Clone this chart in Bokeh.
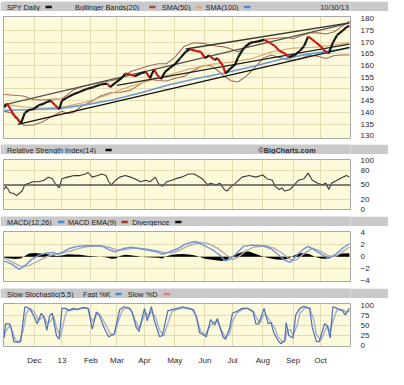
import numpy as np
from bokeh.plotting import figure
from bokeh.layouts import column
from bokeh.models import Range1d, FixedTicker, Span
from bokeh.embed import file_html
from bokeh.resources import INLINE
from bokeh.core.properties import value

# ---------------- data (x = trading-day index, 0 = 2012-10-31) ----------------
month_ticks = [22, 42, 63, 82, 102, 124, 146, 166, 188, 210, 230]
month_labels = ["Dec", "13", "Feb", "Mar", "Apr", "May", "Jun", "Jul", "Aug", "Sep", "Oct"]

price_idx = [0, 2, 5, 7, 10, 12, 15, 18, 21, 25, 29, 31, 34, 37, 40, 42, 46, 50, 55, 60,
             65, 70, 75, 77, 81, 86, 88, 92, 95, 99, 103, 106, 109, 111, 114, 117, 121, 124,
             128, 132, 135, 139, 143, 146, 149, 153, 155, 159, 161, 164, 168, 170, 173, 175,
             179, 184, 189, 193, 197, 200, 204, 207, 211, 215, 218, 221, 224, 226, 230, 233,
             236, 239, 242, 246, 249, 251]
price_close = [142.1, 143.7, 141.0, 138.6, 137.0, 135.1, 139.8, 141.0, 141.3, 143.0, 143.7,
               144.5, 144.9, 143.0, 141.3, 145.0, 146.4, 147.6, 148.8, 150.0, 150.8, 151.9,
               152.3, 150.8, 152.7, 155.0, 156.6, 156.2, 155.4, 156.6, 157.3, 154.6, 158.5,
               156.2, 154.2, 157.3, 159.3, 160.5, 163.2, 165.9, 167.1, 166.3, 165.9, 163.2,
               164.4, 162.4, 163.2, 160.0, 156.6, 158.5, 160.5, 163.5, 166.3, 168.0, 169.8,
               170.2, 171.0, 169.8, 168.3, 166.3, 165.2, 163.6, 164.4, 166.3, 168.3, 172.4,
               171.2, 170.2, 168.3, 166.3, 165.2, 169.8, 173.0, 174.9, 176.5, 176.9]

bb_idx = [0, 7, 14, 21, 28, 34, 42, 46, 50, 56, 63, 70, 77, 84, 92, 100, 106, 112, 118, 124,
          131, 138, 145, 150, 155, 160, 165, 170, 176, 182, 188, 194, 200, 206, 210, 216, 222,
          228, 234, 240, 246, 251]
bb_upper = [147.6, 147.3, 147.0, 145.5, 145.3, 145.6, 145.8, 147.5, 149.5, 150.8, 151.8,
            152.8, 153.4, 154.5, 157.5, 159.0, 160.0, 160.8, 160.8, 163.5, 168.3, 169.8,
            169.5, 168.8, 168.3, 168.0, 167.1, 165.8, 168.0, 170.3, 171.2, 171.5, 171.8,
            172.0, 171.5, 172.8, 174.0, 174.0, 173.5, 174.5, 177.0, 179.0]
bb_lower = [140.5, 139.5, 134.5, 134.5, 136.0, 138.0, 140.5, 139.5, 139.8, 142.5, 144.5,
            147.0, 148.4, 148.5, 149.5, 152.5, 154.2, 153.6, 153.4, 154.5, 155.5, 158.0,
            160.0, 160.0, 158.0, 155.4, 153.5, 153.0, 155.5, 159.0, 163.0, 164.5, 163.5,
            162.5, 162.3, 163.0, 164.5, 164.0, 163.0, 164.3, 164.5, 164.5]

sma50_idx = [0, 15, 30, 45, 60, 75, 90, 105, 120, 135, 150, 165, 180, 195, 210, 225, 240, 251]
sma50 = [143.5, 142.2, 141.8, 142.5, 144.5, 147.5, 150.8, 153.5, 156.0, 158.6, 160.5, 161.5,
         163.0, 166.0, 167.5, 167.8, 168.8, 169.8]

sma100_idx = [0, 20, 40, 60, 80, 100, 120, 140, 160, 180, 200, 220, 240, 251]
sma100 = [140.8, 141.2, 141.6, 143.3, 145.5, 148.5, 151.8, 154.5, 156.8, 159.5, 162.5, 164.8,
          166.5, 167.5]

# hand-drawn trend lines: (start idx, start price, end idx, end price)
trend_x0 = [0, 10, 82, 132]
trend_y0 = [143.2, 134.8, 151.5, 167.1]
trend_x1 = [251, 251, 251, 251]
trend_y1 = [178.2, 167.8, 169.2, 178.3]
trend_colors = ["#505050", "#111111", "#222222", "#333333"]

rsi_idx = [0, 1, 3, 4, 7, 9, 13, 15, 18, 21, 25, 29, 32, 35, 37, 40, 42, 46, 51, 55, 59, 61,
           64, 68, 71, 74, 76, 78, 81, 84, 88, 92, 95, 99, 103, 106, 110, 112, 115, 118, 122,
           126, 129, 134, 138, 140, 144, 148, 150, 154, 157, 160, 162, 164, 168, 173, 178,
           183, 188, 191, 195, 197, 200, 202, 204, 208, 211, 214, 218, 221, 224, 228, 231,
           234, 236, 238, 242, 246, 249, 251]
rsi = [40.9, 47.0, 41.0, 34.6, 32.7, 28.3, 37.7, 50.3, 53.4, 56.6, 56.6, 59.7, 66.0, 62.9,
       53.4, 44.0, 62.9, 66.0, 69.2, 69.2, 72.3, 75.5, 66.0, 69.2, 72.3, 69.2, 56.6, 50.3,
       59.7, 66.0, 69.2, 66.0, 62.9, 56.6, 59.7, 56.6, 66.0, 53.4, 47.2, 56.6, 59.7, 64.0,
       66.0, 72.3, 72.3, 69.2, 62.9, 50.3, 53.4, 50.3, 53.4, 40.9, 37.7, 44.0, 53.4, 66.0,
       69.2, 66.0, 70.4, 62.9, 59.7, 47.2, 40.9, 44.0, 37.7, 40.9, 50.3, 59.7, 62.9, 74.2,
       59.7, 53.4, 50.3, 53.4, 40.9, 53.4, 59.7, 66.0, 69.2, 66.0]

macd_idx = [0, 5, 11, 15, 20, 25, 30, 35, 39, 42, 47, 53, 60, 68, 72, 77, 81, 86, 92, 99,
            105, 111, 115, 120, 126, 132, 139, 146, 152, 157, 161, 164, 169, 174, 180, 188,
            194, 200, 204, 208, 213, 218, 221, 226, 232, 236, 241, 247, 251]
macd = [-0.7, -1.2, -2.1, -1.5, -0.45, 0.2, 0.55, 0.7, 0.4, 0.7, 1.3, 1.7, 1.8, 1.8, 1.65,
        1.05, 0.8, 1.3, 1.55, 1.3, 1.05, 0.8, 0.4, 0.8, 1.3, 2.1, 2.5, 1.8, 1.05, 0.2, -0.7,
        -0.45, 0.55, 1.7, 1.9, 1.8, 1.3, 0.2, -0.6, -0.95, 0.3, 1.3, 1.7, 1.05, 0.2, -0.3,
        0.4, 1.55, 2.1]

signal_idx = [0, 5, 12, 18, 24, 30, 36, 42, 48, 55, 62, 70, 76, 82, 88, 95, 102, 110, 116,
              122, 128, 134, 142, 148, 155, 161, 166, 170, 176, 182, 190, 196, 202, 208, 212,
              218, 224, 230, 236, 241, 246, 251]
signal = [-0.2, -0.8, -1.6, -1.5, -0.8, -0.1, 0.4, 0.55, 0.9, 1.4, 1.7, 1.8, 1.55, 1.1, 1.15,
          1.4, 1.3, 1.0, 0.7, 0.65, 1.1, 1.8, 2.35, 2.2, 1.4, 0.4, -0.5, -0.1, 1.0, 1.6, 1.8,
          1.4, 0.6, -0.5, -0.6, 0.5, 1.4, 0.9, 0.1, 0.05, 0.8, 1.6]

div_idx = [0, 4, 8, 12, 15, 18, 22, 26, 30, 34, 38, 42, 46, 50, 55, 60, 65, 70, 74, 78, 81,
           84, 88, 92, 96, 100, 104, 108, 112, 115, 118, 122, 126, 130, 134, 138, 142, 146,
           150, 154, 158, 162, 166, 170, 174, 178, 182, 186, 190, 194, 198, 202, 206, 210,
           214, 218, 222, 226, 230, 234, 238, 242, 246, 250, 251]
divergence = [-0.2, -0.3, -0.4, -0.3, 0.1, 0.5, 0.6, 0.5, 0.45, 0.3, 0.1, 0.2, 0.4, 0.35,
              0.3, 0.15, 0.05, 0.0, -0.1, -0.35, -0.3, 0.1, 0.3, 0.25, 0.1, 0.0, -0.1, -0.15,
              -0.2, -0.3, 0.05, 0.3, 0.4, 0.45, 0.35, 0.25, 0.0, -0.35, -0.45, -0.6, -0.7,
              -0.45, 0.1, 0.5, 0.8, 0.85, 0.5, 0.2, -0.1, -0.3, -0.45, -0.5, -0.4, 0.1, 0.5,
              0.6, 0.4, 0.0, -0.3, -0.35, -0.1, 0.3, 0.5, 0.55, 0.5]

stk_idx = [0, 1, 4, 5, 7, 10, 12, 15, 17, 19, 22, 24, 27, 29, 31, 33, 35, 38, 40, 42, 45,
           47, 50, 53, 57, 61, 64, 67, 69, 73, 76, 80, 84, 87, 91, 93, 96, 98, 102, 104, 107,
           109, 113, 115, 119, 122, 126, 130, 133, 137, 140, 142, 144, 147, 150, 153, 155,
           159, 161, 164, 166, 170, 173, 177, 181, 183, 185, 189, 192, 194, 196, 199, 201,
           204, 205, 207, 210, 212, 215, 218, 222, 224, 227, 229, 233, 235, 237, 239, 242,
           246, 248, 251]
stoch_k = [19, 54, 54, 45, 10, 8, 10, 96, 94, 89, 70, 54, 80, 70, 38, 73, 80, 25, 16, 92,
           92, 86, 92, 89, 94, 92, 41, 83, 76, 41, 22, 29, 89, 96, 92, 83, 45, 35, 92, 61, 96,
           64, 22, 25, 86, 89, 92, 96, 92, 89, 70, 32, 29, 22, 64, 51, 67, 22, 16, 45, 80, 86,
           92, 92, 83, 54, 54, 92, 54, 57, 32, 13, 5, 13, 57, 25, 19, 76, 92, 97, 92, 45, 10,
           10, 54, 48, 19, 96, 92, 86, 76, 92]

std_idx = [0, 2, 4, 6, 8, 11, 14, 16, 19, 22, 25, 27, 29, 31, 33, 36, 38, 41, 44, 46, 49,
           52, 55, 58, 61, 64, 66, 68, 70, 74, 77, 80, 83, 86, 89, 92, 95, 98, 100, 103, 105,
           107, 110, 113, 116, 119, 122, 126, 130, 134, 138, 141, 143, 146, 149, 152, 155,
           158, 161, 164, 166, 169, 173, 177, 181, 184, 186, 189, 192, 194, 197, 199, 202,
           204, 206, 208, 210, 213, 215, 219, 222, 225, 227, 230, 233, 235, 237, 239, 242,
           246, 249, 251]
stoch_d = [30, 40, 50, 35, 15, 9, 40, 80, 92, 82, 62, 68, 72, 55, 58, 72, 45, 22, 70, 90,
           88, 90, 91, 93, 92, 60, 68, 80, 75, 50, 30, 26, 60, 88, 94, 90, 65, 42, 60, 82,
           70, 85, 70, 38, 24, 55, 84, 90, 93, 93, 88, 55, 35, 26, 45, 58, 60, 38, 20, 30,
           60, 80, 89, 92, 86, 65, 56, 78, 68, 58, 42, 22, 10, 10, 38, 40, 25, 50, 80, 94,
           93, 65, 28, 12, 35, 50, 35, 60, 88, 89, 82, 86]

# ---------------- styling ----------------
W = 388
FONT = "Liberation Sans"
BG = "#fdfadb"
GRID = "#e2dcb0"
HEAD_BG = "#c9c9c9"
HEAD_H = 11
HEAD_FS = "7.3px"
X_RANGE = (-0.5, 251.8)
FRAME_W = 347
LEFT = 3


def header(items, right_text=None, right_x=None, right_bold=False):
    h = figure(width=W, height=HEAD_H, x_range=Range1d(0, W), y_range=Range1d(0, HEAD_H),
               output_backend="svg", toolbar_location=None,
               x_axis_location=None, y_axis_location=None, min_border=0)
    h.background_fill_color = HEAD_BG
    h.border_fill_color = HEAD_BG
    h.outline_line_color = None
    h.grid.visible = False
    mid = HEAD_H / 2
    for tx, label, swx, col in items:
        h.text(x=[tx], y=[mid], text=[label], text_font=value(FONT), text_font_size=HEAD_FS,
               text_baseline="middle", text_align="left", text_color="#1e1e1e")
        if col is not None:
            h.segment(x0=[swx], y0=[mid], x1=[swx + 7], y1=[mid], line_color=col,
                      line_width=2.6)
    if right_text:
        h.text(x=[right_x], y=[mid], text=[right_text], text_font=value(FONT),
               text_font_size=HEAD_FS, text_baseline="middle", text_align="right",
               text_color="#303030", text_font_style="bold" if right_bold else "normal")
    return h


def panel(height, top, bottom, y_rng, yticks, ygrid, x_axis=False):
    p = figure(width=W, height=height, x_range=Range1d(*X_RANGE), y_range=Range1d(*y_rng),
               output_backend="svg", toolbar_location=None, y_axis_location="right",
               x_axis_location="below" if x_axis else None,
               min_border_left=LEFT, min_border_right=W - LEFT - FRAME_W,
               min_border_top=top, min_border_bottom=bottom)
    p.background_fill_color = BG
    p.border_fill_color = "white"
    p.outline_line_color = "#a8a8a8"
    p.xgrid.ticker = FixedTicker(ticks=month_ticks)
    p.ygrid.ticker = FixedTicker(ticks=ygrid)
    p.grid.grid_line_color = GRID
    p.grid.grid_line_width = 1
    ax = p.yaxis[0]
    ax.ticker = FixedTicker(ticks=yticks)
    ax.axis_line_color = None
    ax.major_tick_line_color = None
    ax.minor_tick_line_color = None
    ax.major_label_standoff = 4
    ax.major_label_text_font = FONT
    ax.major_label_text_font_size = "8px"
    ax.major_label_text_color = "#2a2a2a"
    if x_axis:
        xa = p.xaxis[0]
        xa.ticker = FixedTicker(ticks=month_ticks)
        xa.major_label_overrides = {t: l for t, l in zip(month_ticks, month_labels)}
        xa.axis_line_color = None
        xa.major_tick_line_color = None
        xa.minor_tick_line_color = None
        xa.major_label_standoff = 3
        xa.major_label_text_font = FONT
        xa.major_label_text_font_size = "8px"
        xa.major_label_text_color = "#2a2a2a"
    return p


# ---------------- price panel ----------------
h1 = header([(4, "SPY Daily", 47, "#111111"),
             (80, "Bollinger Bands(20)", 163, "#a0503e"),
             (177, "SMA(50)", 215, "#d8ac70"),
             (226, "SMA(100)", 269, "#4f86d8")],
            right_text="10/30/13", right_x=386)

pp = panel(132, 5, 5, (128.8, 181.0), list(range(130, 181, 5)), list(range(135, 180, 5)))
pp.line(bb_idx, bb_upper, line_color="#a86a58", line_width=1.1)
pp.line(bb_idx, bb_lower, line_color="#a86a58", line_width=1.1)
pp.line(sma50_idx, sma50, line_color="#d8b07a", line_width=1.3)
pp.line(sma100_idx, sma100, line_color="#6d9ad8", line_width=1.6)
pp.segment(x0=trend_x0, y0=trend_y0, x1=trend_x1, y1=trend_y1, line_color=trend_colors,
           line_width=1.3)
px = np.array(price_idx, dtype=float)
pc = np.array(price_close)
seg_col = np.where(pc[1:] >= pc[:-1], "#141414", "#c21a1a").tolist()
pp.segment(x0=px[:-1], y0=pc[:-1], x1=px[1:], y1=pc[1:], line_color=seg_col, line_width=2.2)

# ---------------- RSI ----------------
h2 = header([(4, "Relative Strength Index(14)", 114, "#111111")],
            right_text="\u00a9BigCharts.com", right_x=349, right_bold=True)
pr = panel(61, 5, 6, (0, 102), [0, 20, 50, 80, 100], [20, 80])
pr.add_layout(Span(location=50, dimension="width", line_color="#555555", line_width=1.4))
pr.line(rsi_idx, rsi, line_color="#3a3a3a", line_width=1.1)

# ---------------- MACD ----------------
h3 = header([(4, "MACD(12,26)", 61, "#4f86d8"),
             (72, "MACD EMA(9)", 132, "#b03030"),
             (144, "Divergence", 192, "#111111")])
pm = panel(61, 5, 6, (-4.1, 4.15), [-4, -2, 0, 2, 4], [-2, 0, 2])
pm.varea(x=div_idx, y1=[0] * len(div_idx), y2=divergence, fill_color="#000000")
pm.line(signal_idx, signal, line_color="#b4a9b8", line_width=1.4)
pm.line(macd_idx, macd, line_color="#6a95d6", line_width=1.4)

# ---------------- Stochastic ----------------
h4 = header([(4, "Slow Stochastic(5,5)", None, None),
             (89, "Fast %K", 125, "#4f86d8"),
             (139, "Slow %D", 179, "#d88080")])
ps = panel(69, 5, 13, (-2, 104), [0, 25, 50, 75, 100], [25, 50, 75], x_axis=True)
ps.line(std_idx, stoch_d, line_color="#a9b2cc", line_width=1.5)
ps.line(stk_idx, stoch_k, line_color="#4d6fb0", line_width=1.2)

layout = column(h1, pp, h2, pr, h3, pm, h4, ps, spacing=0)
open("out.html", "w").write(file_html(layout, INLINE))
